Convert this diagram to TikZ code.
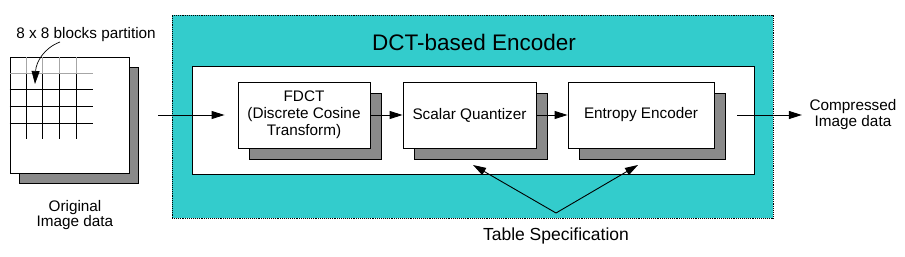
\documentclass[tikz,border=0pt]{standalone}
\usepackage{fontspec}
\setmainfont{Liberation Sans}
\usetikzlibrary{arrows.meta,shadows}

\definecolor{dctcyan}{HTML}{33CCCC}
\definecolor{shadowgray}{HTML}{8A8A8A}

\begin{document}
\begin{tikzpicture}[x=1pt, y=-1pt, line width=0.9pt,
  >={Triangle[length=13pt,width=8pt]},
  every node/.style={font=\fontsize{15.3}{17}\selectfont},
  blockbox/.style={draw, fill=white, minimum height=66pt, align=center, inner sep=2pt,
    copy shadow={shadow xshift=11pt, shadow yshift=-11pt, fill=shadowgray, draw=black}}]
  \useasboundingbox (0,0) rectangle (905,257);
  % encoder frame
  \node[draw, densely dotted, fill=dctcyan, minimum width=601pt, minimum height=203pt] (enc) at (472.5,116.5) {};
  \node[draw, fill=white, minimum width=562pt, minimum height=108pt] (inner) at (473,120) {};
  \node[font=\fontsize{22.5}{24}\selectfont] (title) at (474,42) {DCT-based Encoder};
  % source image
  \node[draw, fill=white, minimum width=119pt, minimum height=116pt,
    copy shadow={shadow xshift=9pt, shadow yshift=-10pt, fill=shadowgray, draw=black}] (img) at (69.5,115) {};
  \foreach \k in {1,...,4} {
    \draw[gray!70, line width=0.7pt] ([xshift=\k*16.6pt]img.north west) -- ++(0,16.6);
    \draw ([xshift=\k*16.6pt, yshift=-16.6pt]img.north west) -- ++(0,65.4);
  }
  \draw[gray!70, line width=0.7pt] ([yshift=-16.6pt]img.north west) -- ++(83,0);
  \foreach \k in {2,...,4}
    \draw ([yshift=-\k*16.6pt]img.north west) -- ++(83,0);
  \node (part) at (86,35) {8 x 8 blocks partition};
  \draw[->, line width=0.7pt] (60,42) .. controls (44,48) and (36,62) .. (35,84);
  \node[align=center, font=\fontsize{15.3}{15}\selectfont] (orig) at (75,215) {Original\\Image data};
  % coding steps
  \node[blockbox, minimum width=132pt] (fdct) at (304,115) {FDCT\\(Discrete Cosine\\Transform)};
  \node[blockbox, minimum width=133pt] (sq) at (469.5,115) {Scalar Quantizer};
  \node[blockbox, minimum width=146pt] (ee) at (641,115) {Entropy Encoder};
  \node[align=center, font=\fontsize{15.3}{16}\selectfont] (out) at (853,115) {Compressed\\Image data};
  \draw[->, shorten <=29pt, shorten >=13pt] (img.east) -- (fdct.west);
  \draw[->] (fdct.east) -- (sq.west);
  \draw[->] (sq.east) -- (ee.west);
  \draw[->, shorten <=23pt, shorten >=4pt] (ee.east) -- (out.west);
  % tables
  \node[font=\fontsize{17.5}{19}\selectfont] (spec) at (556,236) {Table Specification};
  \coordinate (tv) at (556,213);
  \coordinate (tq) at (473,165);
  \coordinate (te) at (638,165);
  \draw[->] (tv) -- (tq);
  \draw[->] (tv) -- (te);
\end{tikzpicture}
\end{document}
